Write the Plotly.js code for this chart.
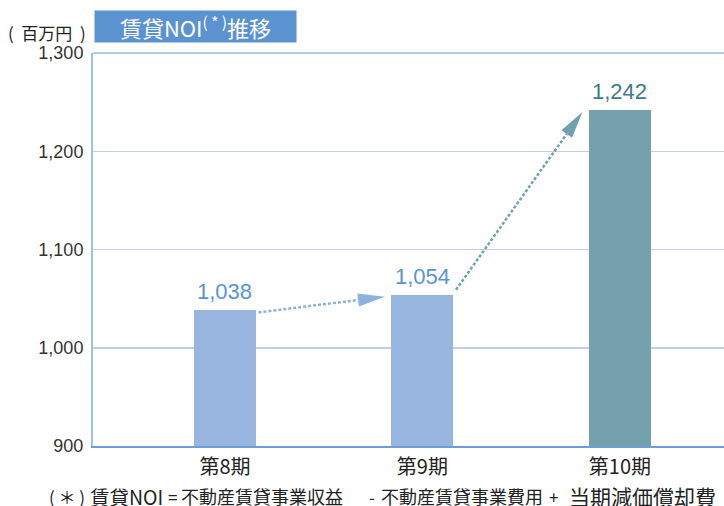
<!DOCTYPE html>
<html>
<head>
<meta charset="utf-8">
<script src="https://cdn.plot.ly/plotly-3.0.1.min.js"></script>
<style>html,body{margin:0;padding:0;background:#fff}#chart{width:724px;height:506px}</style>
</head>
<body>
<div id="chart"></div>
<script>
const categories = ["第8期", "第9期", "第10期"];
const values = [1038, 1054, 1242];
const valueLabels = ["1,038", "1,054", "1,242"];
const barColors = ["#97b5df", "#97b5df", "#75a0ad"];
const labelColors = ["#5a94d0", "#5a94d0", "#3f7b89"];
const arrowColors = ["#8db2de", "#6fa1b0"];
const yTicks = [900, 1000, 1100, 1200, 1300];
const yTickText = ["900", "1,000", "1,100", "1,200", "1,300"];
const footnoteParts = ["( ＊ )", "賃貸NOI", "=", "不動産賃貸事業収益", "-", "不動産賃貸事業費用", "+", "当期減価償却費"];
const footnoteX = [67, 126, 172, 262, 372, 462, 553, 642];
const footnoteSize = [17, 19.5, 17, 18, 17, 18, 17, 21];

const W = 724, H = 506;
const M = {l: 93, r: 0, t: 53, b: 60};
const xRange = [-0.668, 2.527];
const yRange = [900, 1300];
const pw = W - M.l - M.r, ph = H - M.t - M.b;
const pxPerX = pw / (xRange[1] - xRange[0]);
const pxPerY = ph / (yRange[1] - yRange[0]);
const CJK = "Noto Sans CJK JP, sans-serif";
const LAT = "Arial, Liberation Sans, sans-serif";

const shapes = [
  {type: "line", xref: "paper", yref: "paper", x0: 0, x1: 1, y0: 1, y1: 1,
   line: {color: "#b3cbe9", width: 2}}
];
const tailShift = [-2, 5];
for (let i = 0; i < values.length - 1; i++) {
  const tail = {x: i + 0.17, y: values[i] + tailShift[i]};
  const tip = {x: i + 0.81, y: values[i + 1] - 2};
  const dxp = (tip.x - tail.x) * pxPerX, dyp = (tip.y - tail.y) * pxPerY;
  const len = Math.hypot(dxp, dyp);
  const ux = dxp / len, uy = dyp / len;
  const headLen = 27, headHalf = 6.5;
  const bx = tip.x - headLen * ux / pxPerX, by = tip.y - headLen * uy / pxPerY;
  const nx = -uy, ny = ux;
  const p1 = {x: bx + headHalf * nx / pxPerX, y: by + headHalf * ny / pxPerY};
  const p2 = {x: bx - headHalf * nx / pxPerX, y: by - headHalf * ny / pxPerY};
  shapes.push({type: "line", xref: "x", yref: "y", x0: tail.x, y0: tail.y, x1: bx, y1: by,
    line: {color: arrowColors[i], width: 2.5, dash: "3px,2px"}});
  shapes.push({type: "path", xref: "x", yref: "y",
    path: `M ${tip.x} ${tip.y} L ${p1.x} ${p1.y} L ${p2.x} ${p2.y} Z`,
    fillcolor: arrowColors[i], line: {width: 0}});
}

const annotations = values.map((v, i) => ({
  x: i, y: v, xref: "x", yref: "y", text: valueLabels[i], showarrow: false,
  yanchor: "bottom", yshift: 4,
  font: {family: LAT, size: 22, color: labelColors[i]}
}));
annotations.push({
  xref: "paper", yref: "paper", x: 1 / pw, y: 1 + 26.5 / ph, xanchor: "left", yanchor: "middle",
  text: "賃貸NOI<sup>(\u00a0*\u00a0)</sup>推移", showarrow: false, width: 201, height: 31, borderpad: 0,
  bgcolor: "#5b93d0", align: "center",
  font: {family: CJK, size: 22, color: "#ffffff"}
});
annotations.push({
  xref: "paper", yref: "paper", x: -5 / pw, y: 1 + 21 / ph, xanchor: "right", yanchor: "middle",
  text: "(\u00a0\u00a0百万円\u00a0\u00a0)", showarrow: false,
  font: {family: CJK, size: 17, color: "#222222"}
});
footnoteParts.forEach((t, i) => {
  annotations.push({
    xref: "paper", yref: "paper", x: (footnoteX[i] - M.l) / pw, y: -50 / ph,
    xanchor: "center", yanchor: "middle", text: t, showarrow: false, height: 20, borderpad: 0,
    font: {family: CJK, size: footnoteSize[i], color: "#222222"}
  });
});

const trace = {
  type: "bar", x: [0, 1, 2], y: values, width: 0.314,
  marker: {color: barColors, line: {width: 0}},
  hoverinfo: "none"
};

const layout = {
  width: W, height: H, margin: M, showlegend: false,
  paper_bgcolor: "#ffffff", plot_bgcolor: "#ffffff",
  xaxis: {range: xRange, tickvals: [0, 1, 2], ticktext: categories, showgrid: false,
    showline: true, linecolor: "#6c9ed8", linewidth: 2, ticks: "", zeroline: false,
    ticklabelstandoff: 2,
    tickfont: {family: CJK, size: 20, color: "#222222"}},
  yaxis: {range: yRange, tickvals: yTicks, ticktext: yTickText, showgrid: true,
    gridcolor: "#bfd0e6", gridwidth: 1.5, showline: true, linecolor: "#9fc0e8", linewidth: 2,
    ticks: "", zeroline: false, ticklabelstandoff: 4,
    tickfont: {family: LAT, size: 18, color: "#333333"}},
  shapes: shapes, annotations: annotations, bargap: 0
};
Plotly.newPlot("chart", [trace], layout, {displayModeBar: false, staticPlot: true});
</script>
</body>
</html>
